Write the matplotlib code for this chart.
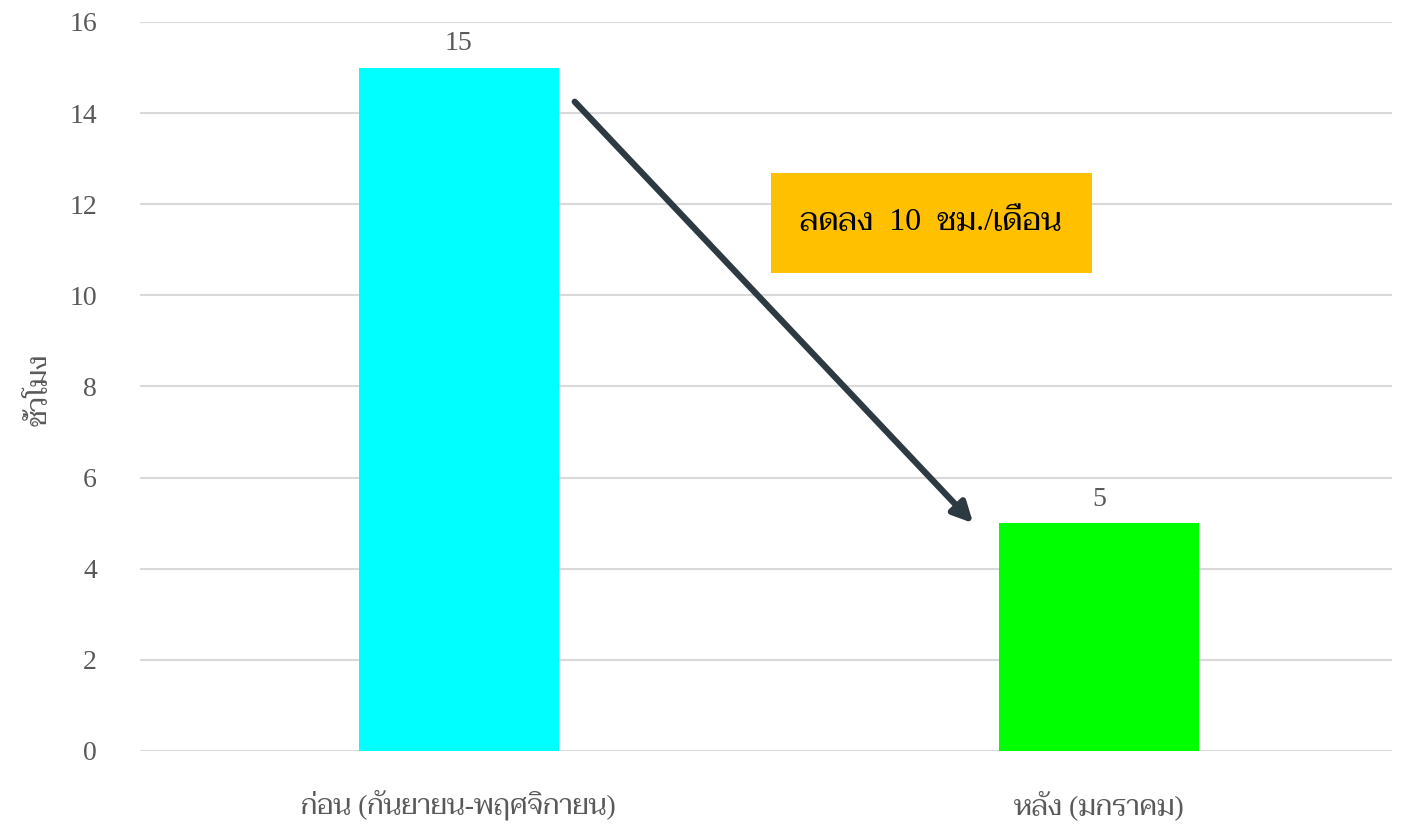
import matplotlib
matplotlib.use('Agg')
import matplotlib.pyplot as plt
from matplotlib.patches import Rectangle

# Latin serif first, Thai glyphs fall through to Taviraj
FONT = ['Liberation Serif', 'Taviraj']
plt.rcParams['font.family'] = FONT

categories = ['ก่อน (กันยายน-พฤศจิกายน)', 'หลัง (มกราคม)']
hours = [15, 5]
bar_colors = ['#00FFFF', '#00FF00']
y_ticks = [0, 2, 4, 6, 8, 10, 12, 14, 16]
y_label = 'ชั่วโมง'
note_unit = 'ชม./เดือน'

GRAY = '#595959'

fig = plt.figure(figsize=(14.08, 8.27), dpi=100)
ax = fig.add_axes([0.0994, 0.0919, 0.8892, 0.8815])

x = list(range(len(categories)))
width = 0.3125
ax.bar(x, hours, width=width, color=bar_colors, zorder=3)

for xi, h in zip(x, hours):
    ax.annotate(f'{h}', (xi, h), xytext=(0, 8), textcoords='offset points',
                ha='center', va='bottom', fontsize=20, color=GRAY)

ax.set_xlim(-0.498, 1.458)
ax.set_ylim(0, 16)
ax.set_yticks(y_ticks)
ax.set_xticks(x)
ax.set_xticklabels(categories, fontsize=20, color=GRAY)
ax.tick_params(axis='y', labelsize=20, labelcolor=GRAY, length=0, pad=31)
ax.tick_params(axis='x', length=0, pad=28)
ax.grid(axis='y', color='#d9d9d9', linewidth=1.5, zorder=0)
for s in ax.spines.values():
    s.set_visible(False)
ax.set_ylabel(y_label, fontsize=20, color=GRAY, va='center')
ax.yaxis.set_label_coords(-0.08, 0.495)

# arrow from the first bar down to the second
before, after = hours
ax.annotate('', xy=(1 - width / 2 - 0.04, after), xytext=(width / 2 + 0.025, before - 0.75),
            arrowprops=dict(arrowstyle='-|>,head_length=1.2,head_width=0.6',
                            color='#2e3a42', lw=4.5, shrinkA=0, shrinkB=0),
            zorder=4)

# callout box with the reduction
box = Rectangle((0.4875, 10.49), 0.5015, 2.2, facecolor='#FFC000', edgecolor='none', zorder=4)
ax.add_patch(box)
ax.text(0.4875 + 0.5015 / 2, 10.49 + 1.1, f'ลดลง  {before - after}  {note_unit}',
        ha='center', va='center', fontsize=23, color='black', zorder=5)

fig.savefig('out.png', dpi=100)
